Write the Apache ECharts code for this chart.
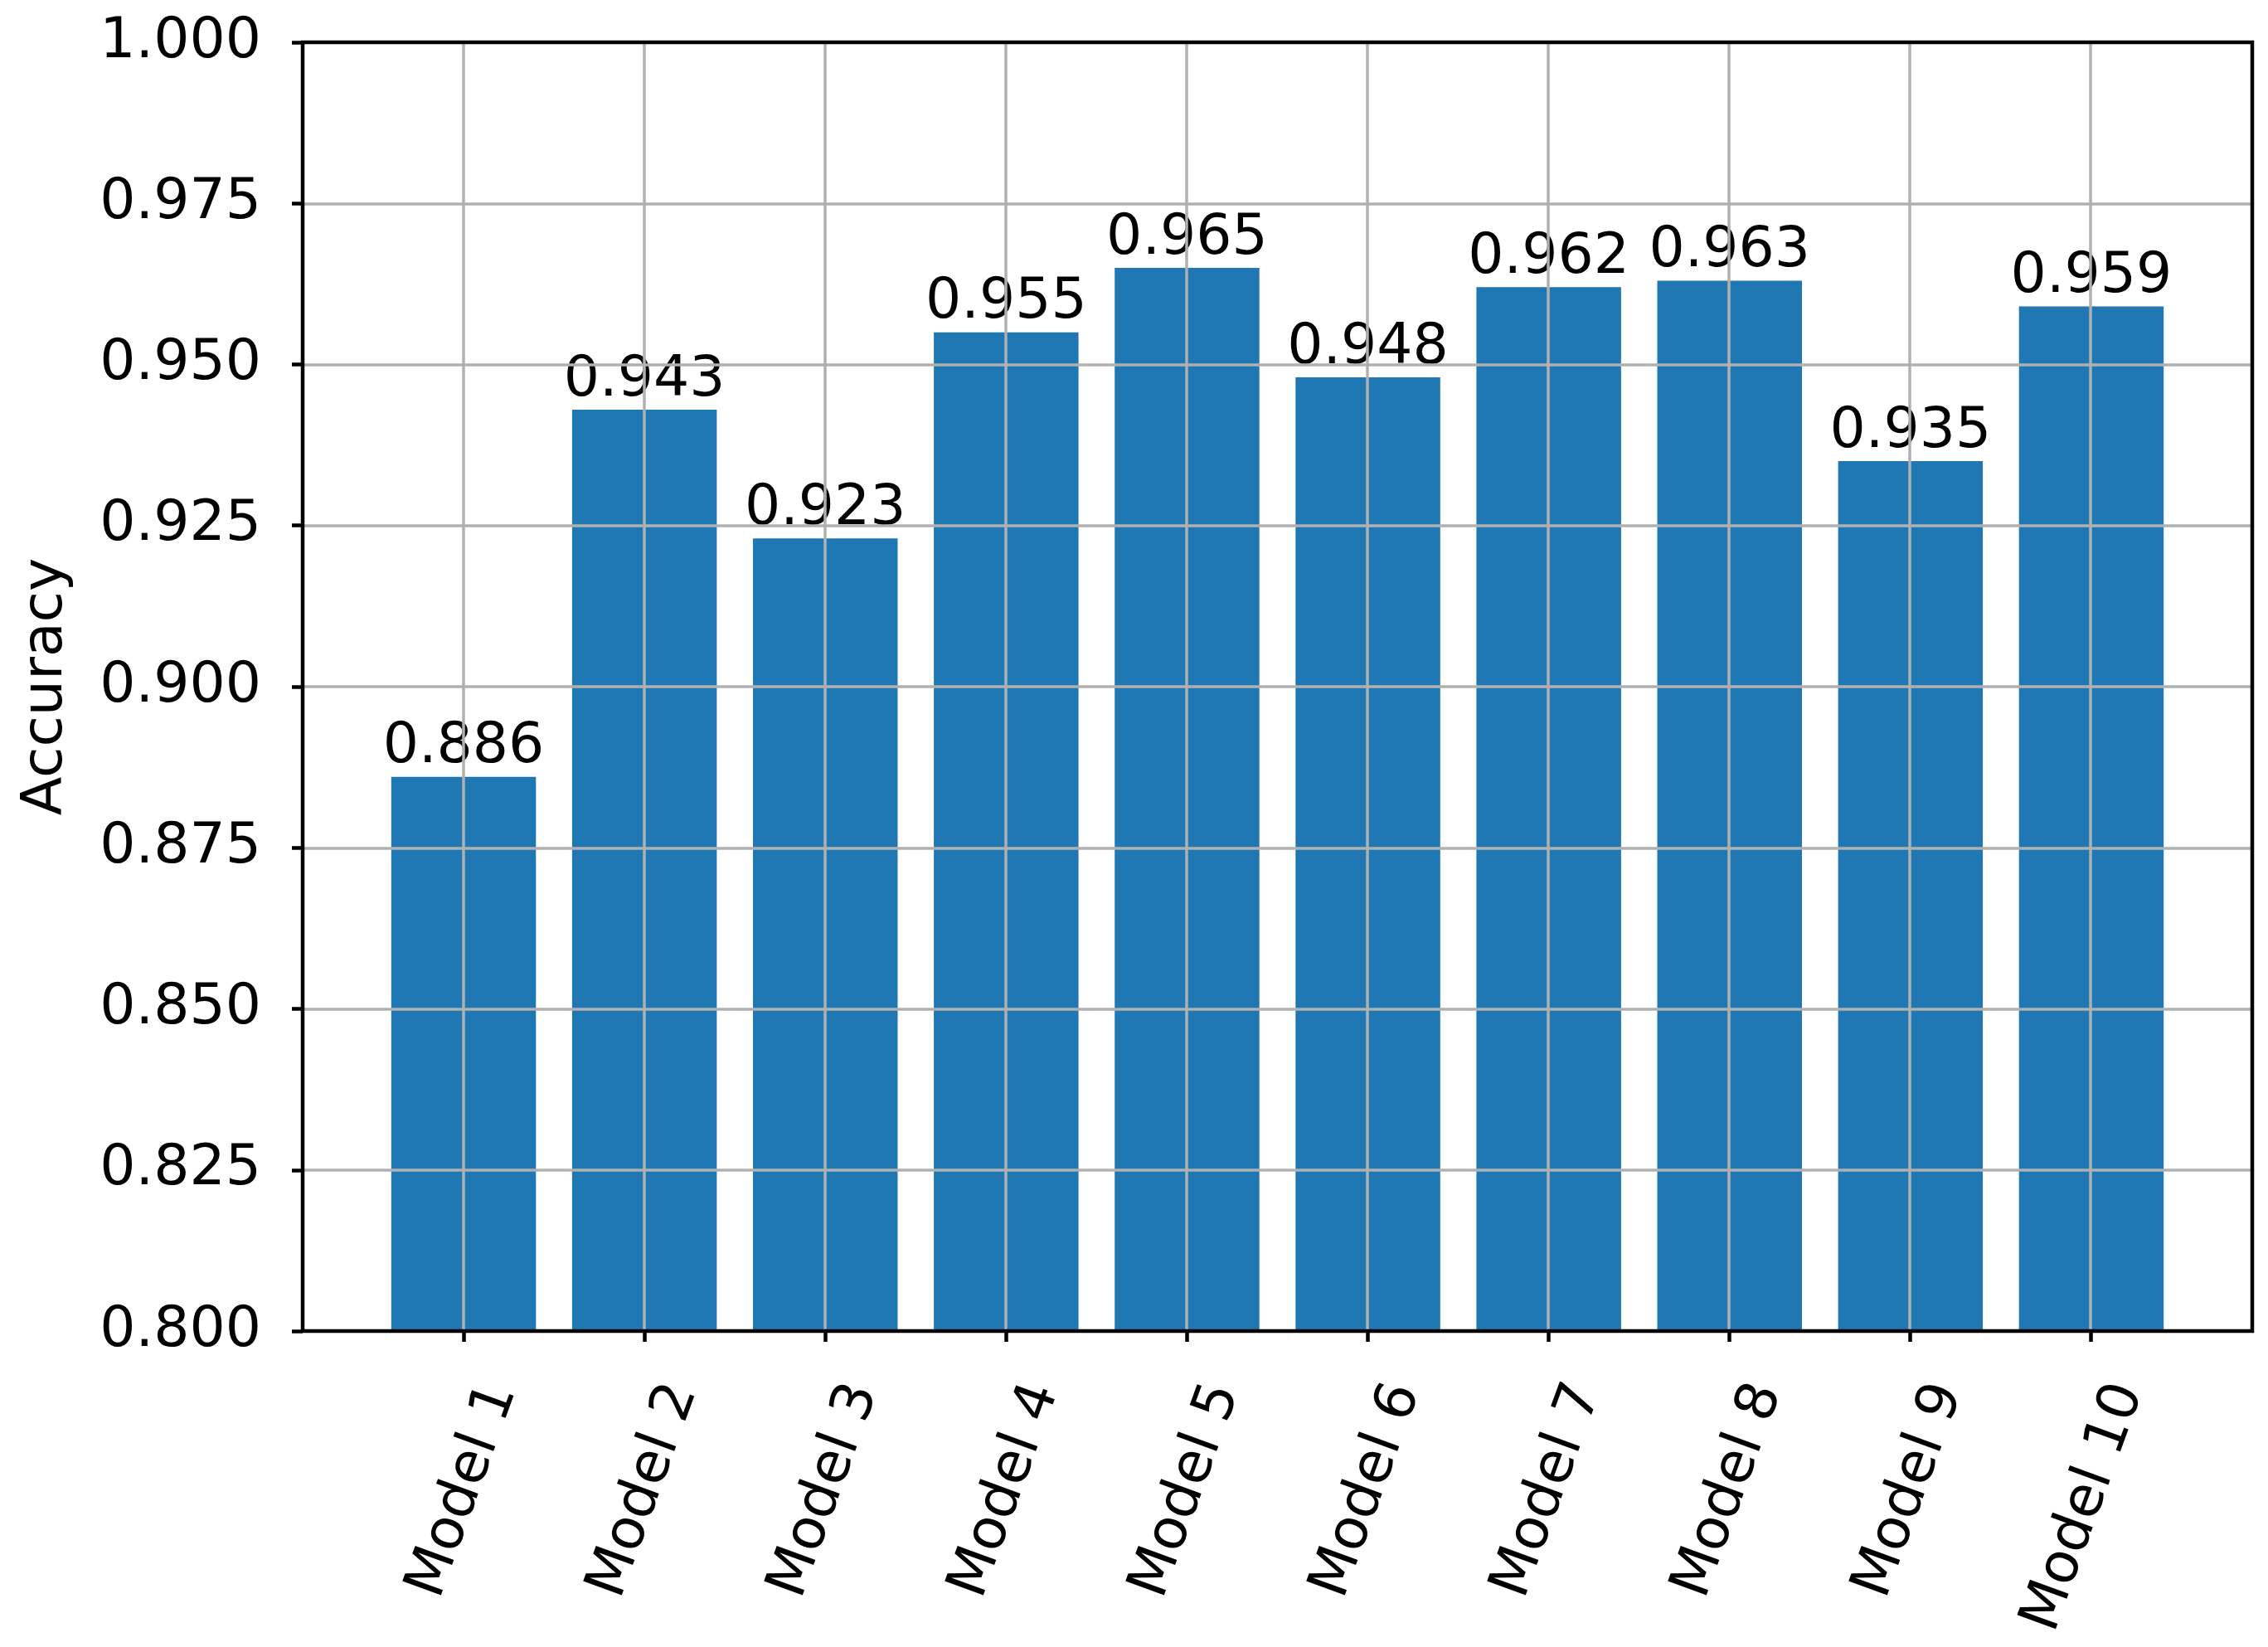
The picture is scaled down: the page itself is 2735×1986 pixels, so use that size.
<!DOCTYPE html>
<html>
<head>
<meta charset="utf-8">
<script src="https://cdn.jsdelivr.net/npm/echarts@6/dist/echarts.min.js"></script>
<style>
  html, body { margin: 0; padding: 0; background: #fff; }
  #bars { width: 2735px; height: 1986px; }
</style>
</head>
<body>
<div id="bars"></div>
<script>
var models = ['Model 1', 'Model 2', 'Model 3', 'Model 4', 'Model 5',
              'Model 6', 'Model 7', 'Model 8', 'Model 9', 'Model 10'];
var accuracy = [0.886, 0.943, 0.923, 0.955, 0.965, 0.948, 0.962, 0.963, 0.935, 0.959];
var yMin = 0.8;
var yMax = 1.0;
var yStep = 0.025;

var font = 'DejaVu Sans';
var fs = 68;

var myChart = echarts.init(document.getElementById('bars'));
var option = {
    animation: false,
    backgroundColor: '#fff',
    grid: [
        // frame
        {left: 365, right: 19, top: 51, bottom: 381, show: true, z: 5,
         borderColor: '#000', borderWidth: 4.5, backgroundColor: 'transparent'},
        // bars: 10 bands exactly
        {left: 450, right: 104, top: 51, bottom: 381},
        // rotated labels, shifted to mimic matplotlib centering
        {left: 605, right: 168, top: 51, bottom: 381},
        // ticks + vertical grid lines at category centres
        {left: 559, right: 214, top: 51, bottom: 381}
    ],
    xAxis: [
        {gridIndex: 0, type: 'value', min: 0, max: 1, show: false},
        {gridIndex: 1, type: 'category', data: models, show: false},
        {
            gridIndex: 2, type: 'category', data: models, boundaryGap: false,
            axisLine: {show: false}, axisTick: {show: false}, splitLine: {show: false},
            axisLabel: {show: true, rotate: 70, margin: 66, interval: 0,
                        color: '#000', fontSize: fs, fontFamily: font}
        },
        {
            gridIndex: 3, type: 'category', data: models, boundaryGap: false, z: 3,
            axisLine: {show: false},
            axisTick: {show: true, length: 13, interval: 0, lineStyle: {color: '#000', width: 4.5}},
            axisLabel: {show: false},
            splitLine: {show: true, interval: 0, lineStyle: {color: '#b0b0b0', width: 3.5}}
        }
    ],
    yAxis: [
        {
            gridIndex: 0, type: 'value', min: yMin, max: yMax, interval: yStep, z: 3,
            name: 'Accuracy', nameLocation: 'middle', nameGap: 275,
            nameTextStyle: {color: '#000', fontSize: fs, fontFamily: font},
            axisLine: {show: false},
            axisTick: {show: true, length: 13, lineStyle: {color: '#000', width: 4.5}},
            axisLabel: {margin: 50, color: '#000', fontSize: fs, fontFamily: font,
                        formatter: function (v) { return v.toFixed(3); }},
            splitLine: {show: true, lineStyle: {color: '#b0b0b0', width: 3.5}}
        },
        {gridIndex: 1, type: 'value', min: yMin, max: yMax, show: false},
        {gridIndex: 2, type: 'value', min: yMin, max: yMax, show: false},
        {gridIndex: 3, type: 'value', min: yMin, max: yMax, show: false}
    ],
    series: [{
        type: 'bar',
        xAxisIndex: 1,
        yAxisIndex: 1,
        data: accuracy,
        barWidth: '80%',
        z: 2,
        itemStyle: {color: '#1f77b4'},
        label: {
            show: true, position: 'top', distance: 1,
            color: '#000', fontSize: fs, fontFamily: font,
            formatter: function (p) { return p.value.toFixed(3); }
        },
        labelLayout: {hideOverlap: false}
    }]
};
myChart.setOption(option);
window.addEventListener("resize", function () { myChart.resize(); });
</script>
</body>
</html>
